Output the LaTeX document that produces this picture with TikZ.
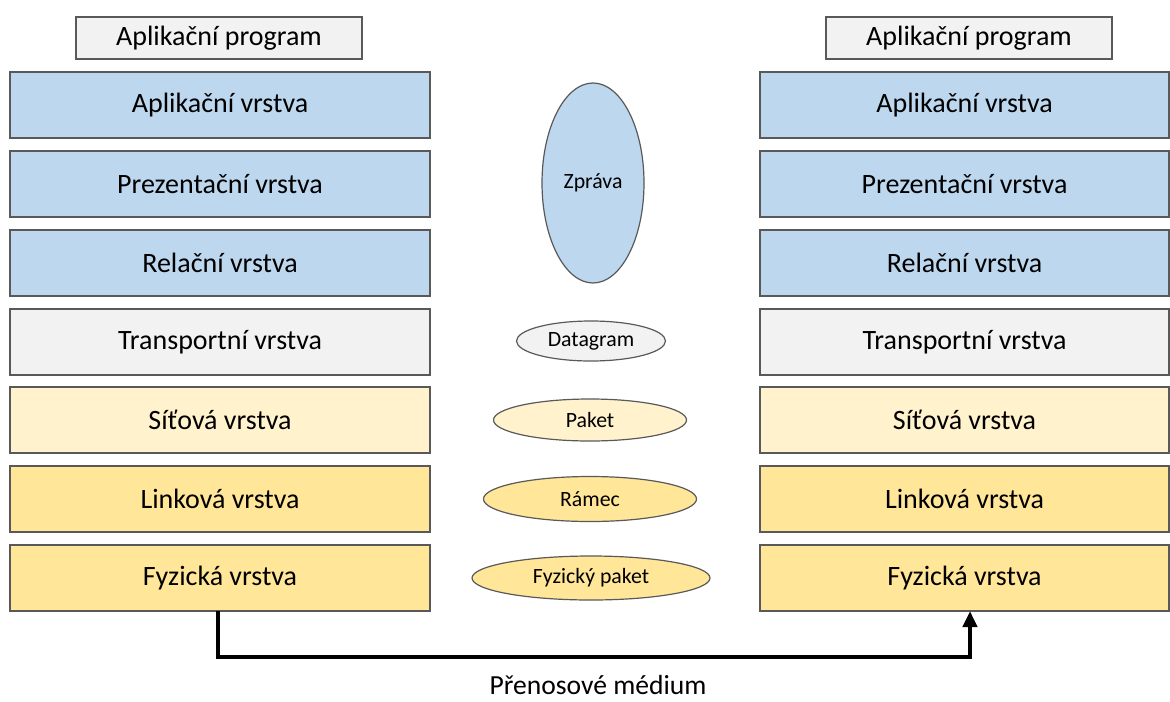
\documentclass[tikz,border=0pt]{standalone}
\usepackage{fontspec}
\setmainfont{Carlito}
\usetikzlibrary{shapes.geometric,arrows.meta}
\definecolor{lblue}{HTML}{BDD7EE}
\definecolor{lgray}{HTML}{F2F2F2}
\definecolor{lyel}{HTML}{FFF2CC}
\definecolor{dyel}{HTML}{FFE699}
\definecolor{edge}{HTML}{595959}
\tikzset{
  layer/.style={draw=edge, line width=0.7pt, minimum width=420*0.5pt, minimum height=66*0.5pt, inner sep=0pt, font=\fontsize{14}{16}\selectfont},
  rlayer/.style={layer, minimum width=409*0.5pt},
  prog/.style={draw=edge, line width=0.6pt, fill=lgray, minimum width=286*0.5pt, minimum height=42*0.5pt, inner sep=0pt, font=\fontsize{14}{16}\selectfont},
  pdu/.style={ellipse, draw=edge, line width=0.6pt, inner sep=0pt, font=\fontsize{10.9}{12}\selectfont},
  medium/.style={line width=2pt, -{Triangle[width=7pt,length=8pt]}}
}
\begin{document}
\begin{tikzpicture}[x=0.5pt,y=-0.5pt]
\useasboundingbox (0,0) rectangle (1170,701);
% top program boxes
\node[prog] (pl) at (219,38) {Aplikační program};
\node[prog] (pr) at (969,38) {Aplikační program};
% left stack
\node[layer, fill=lblue] (l1) at (220,105) {Aplikační vrstva};
\node[layer, fill=lblue] (l2) at (220,184) {Prezentační vrstva};
\node[layer, fill=lblue] (l3) at (220,263) {Relační vrstva};
\node[layer, fill=lgray] (l4) at (220,342) {Transportní vrstva};
\node[layer, fill=lyel]  (l5) at (220,420) {Síťová vrstva};
\node[layer, fill=dyel]  (l6) at (220,499) {Linková vrstva};
\node[layer, fill=dyel]  (l7) at (220,578) {Fyzická vrstva};
% right stack
\node[rlayer, fill=lblue] (r1) at (964.5,105) {Aplikační vrstva};
\node[rlayer, fill=lblue] (r2) at (964.5,184) {Prezentační vrstva};
\node[rlayer, fill=lblue] (r3) at (964.5,263) {Relační vrstva};
\node[rlayer, fill=lgray] (r4) at (964.5,342) {Transportní vrstva};
\node[rlayer, fill=lyel]  (r5) at (964.5,420) {Síťová vrstva};
\node[rlayer, fill=dyel]  (r6) at (964.5,499) {Linková vrstva};
\node[rlayer, fill=dyel]  (r7) at (964.5,578) {Fyzická vrstva};
% PDUs
\node[pdu, fill=lblue, minimum width=102*0.5pt, minimum height=200*0.5pt] (e1) at (593,183) {Zpráva};
\node[pdu, fill=lgray, minimum width=149*0.5pt, minimum height=40*0.5pt] (e2) at (591,341) {Datagram};
\node[pdu, fill=lyel, minimum width=193*0.5pt, minimum height=42*0.5pt] (e3) at (590,420) {Paket};
\node[pdu, fill=dyel, minimum width=213*0.5pt, minimum height=45*0.5pt] (e4) at (590,499) {Rámec};
\node[pdu, fill=dyel, minimum width=238*0.5pt, minimum height=44*0.5pt] (e5) at (591,578) {Fyzický paket};
% medium
\coordinate (ms) at (218,611);
\coordinate (me) at (970,611);
\draw[medium] (ms) -- (218,657) -- (970,657) -- (me);
\node[font=\fontsize{13.8}{16}\selectfont, anchor=base, inner sep=0pt] (ml) at (598,694) {Přenosové médium};
\end{tikzpicture}
\end{document}
